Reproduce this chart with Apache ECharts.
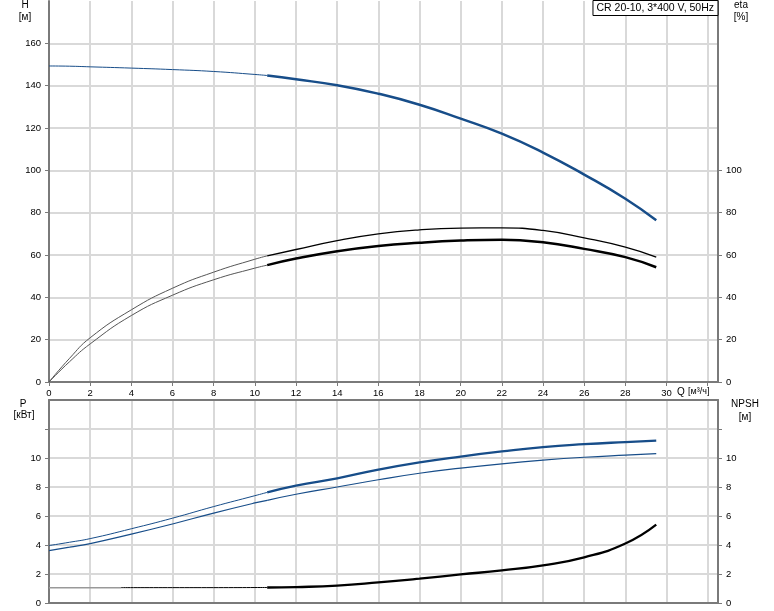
<!DOCTYPE html>
<html><head><meta charset="utf-8">
<script src="https://cdn.jsdelivr.net/npm/echarts@6/dist/echarts.min.js"></script>
<style>html,body{margin:0;padding:0;background:#fff}#c{width:774px;height:611px}</style>
</head><body><div id="c"></div>
<script>
// Flow Q [m3/h]: thin segment (low-flow) and thick segment (operating range)
const qA = [0, 1, 2, 4, 6, 8, 10, 10.6];
const qB = [10.6, 12, 14, 16, 18, 20, 22, 24, 26, 28, 29.5];
// Head H [m]
const hA = [149.3, 149.2, 148.9, 148.3, 147.6, 146.7, 145.3, 144.8];
const hB = [144.8, 143.0, 140.2, 136.2, 131.0, 124.4, 117.3, 108.4, 98.0, 86.6, 76.4];
// Efficiency eta [%] (upper and lower curves)
const eta1A = [0, 11.2, 20.9, 34.1, 44.3, 51.9, 58.0, 59.6];
const eta1B = [59.6, 62.6, 66.8, 70.0, 71.9, 72.7, 72.8, 71.6, 68.1, 63.7, 59.0];
const eta2A = [0, 9.6, 18.0, 31.4, 41.0, 48.3, 53.8, 55.2];
const eta2B = [55.2, 58.3, 61.8, 64.3, 65.8, 66.8, 67.2, 66.0, 62.9, 59.0, 54.2];
// Power P1, P2 [kW]
const p1A = [3.96, 4.19, 4.44, 5.12, 5.85, 6.65, 7.4, 7.63];
const p1B = [7.63, 8.1, 8.6, 9.2, 9.7, 10.1, 10.45, 10.75, 10.95, 11.1, 11.2];
const p2A = [3.61, 3.85, 4.1, 4.75, 5.45, 6.2, 6.9, 7.08];
const p2B = [7.08, 7.5, 8.0, 8.5, 8.95, 9.3, 9.6, 9.85, 10.05, 10.2, 10.3];
// NPSH [m]
const qN0 = [0, 3.5];
const npsh0 = [1.06, 1.06];
const qN1 = [3.5, 6, 8, 10.6];
const npsh1 = [1.06, 1.06, 1.06, 1.07];
const npshB = [1.07, 1.1, 1.2, 1.42, 1.68, 1.97, 2.25, 2.6, 3.15, 4.1, 5.4];
// Tick labels
const xLabels = [0, 2, 4, 6, 8, 10, 12, 14, 16, 18, 20, 22, 24, 26, 28, 30];
const xTicks = [0, 2, 4, 6, 8, 10, 12, 14, 16, 18, 20, 22, 24, 26, 28, 30, 32];
const hLabels = [0, 20, 40, 60, 80, 100, 120, 140, 160];
const etaLabels = [0, 20, 40, 60, 80, 100];
const pLabels = [0, 2, 4, 6, 8, 10];
const pTicks = [0, 2, 4, 6, 8, 10, 12];
const titleText = 'CR 20-10, 3*400 V, 50Hz';

const FONT = '"Liberation Sans", Arial, sans-serif';
const BLUE = '#174d89';
const AX = '#7a7a7a';
const GRID = '#d9d9d9';

function pts(q, v) { return q.map((x, i) => [x, v[i]]); }
function line(q, v, xi, yi, color, width, lastLabel) {
  const data = pts(q, v);
  if (lastLabel) {
    const last = data.pop();
    data.push({ value: last, label: Object.assign({ show: true, color: BLUE, fontSize: 10.5, fontFamily: FONT }, lastLabel) });
  }
  return {
    type: 'line', xAxisIndex: xi, yAxisIndex: yi, data: data,
    smooth: 0.5, showSymbol: false, symbol: 'none',
    lineStyle: { color: color, width: width }, itemStyle: { color: color },
    silent: true, animation: false, z: 5
  };
}
const tickLabel = { fontSize: 9.5, color: '#000', fontFamily: FONT };
function xAxis(gi, showLabels) {
  return {
    type: 'value', gridIndex: gi, min: 0, max: 32.5, interval: 2,
    axisLine: { show: true, onZero: false, lineStyle: { color: AX, width: 2 } },
    axisTick: { show: showLabels, length: 4, customValues: xTicks, lineStyle: { color: AX } },
    axisLabel: Object.assign({ show: showLabels, margin: 6, customValues: xLabels }, tickLabel),
    splitLine: { show: true, lineStyle: { color: GRID, width: 2 } }
  };
}
function yAxis(gi, pos, max, labels, ticks, split) {
  return {
    type: 'value', gridIndex: gi, position: pos, min: 0, max: max, interval: max > 20 ? 20 : 2,
    axisLine: { show: true, onZero: false, lineStyle: { color: AX, width: 2 } },
    axisTick: { show: true, length: 4, customValues: ticks, lineStyle: { color: AX } },
    axisLabel: Object.assign({ margin: 8, customValues: labels }, tickLabel),
    splitLine: { show: split, lineStyle: { color: GRID, width: 2 } }
  };
}
function txt(x, y, t, align) {
  return { type: 'text', x: x, y: y, style: { text: t, fontSize: 10, fontFamily: FONT, fill: '#000', align: align || 'center', verticalAlign: 'middle' } };
}

const chart = echarts.init(document.getElementById('c'), null, { renderer: 'canvas' });
chart.setOption({
  animation: false,
  backgroundColor: '#fff',
  title: {
    text: titleText, right: 56, top: 0, padding: [2, 4, 2, 4],
    borderColor: '#000', borderWidth: 1, backgroundColor: '#fff',
    textStyle: { fontSize: 10.5, fontWeight: 'normal', color: '#000', fontFamily: FONT, lineHeight: 12 }
  },
  grid: [
    { left: 49, right: 56, top: 1, height: 381 },
    { left: 49, right: 56, top: 400, height: 203 }
  ],
  xAxis: [
    xAxis(0, true),
    xAxis(1, false),
    { type: 'value', gridIndex: 1, position: 'top', min: 0, max: 32.5,
      axisLine: { show: true, onZero: false, lineStyle: { color: AX, width: 2 } },
      axisTick: { show: false }, axisLabel: { show: false }, splitLine: { show: false } }
  ],
  yAxis: [
    yAxis(0, 'left', 180, hLabels, hLabels, true),
    yAxis(0, 'right', 180, etaLabels, etaLabels, false),
    yAxis(1, 'left', 14, pLabels, pTicks, true),
    yAxis(1, 'right', 14, pLabels, pTicks, false)
  ],
  graphic: [
    txt(25, 5, 'H'), txt(25, 17.5, '[м]'),
    txt(741, 5, 'eta'), txt(741, 17.5, '[%]'),
    txt(23, 404, 'P'), txt(24, 415, '[кВт]'),
    txt(745, 404, 'NPSH'), txt(745, 417.5, '[м]'),
    { type: 'text', x: 677, y: 392, style: { text: '{a|Q} {b|[м³/ч]}', fontFamily: FONT, fill: '#000', verticalAlign: 'middle',
      rich: { a: { fontSize: 10, fontFamily: FONT }, b: { fontSize: 9, fontFamily: FONT } } } }
  ],
  series: [
    line(qA, hA, 0, 0, BLUE, 1),
    line(qB, hB, 0, 0, BLUE, 2.5),
    line(qA, eta1A, 0, 1, '#555', 1),
    line(qB, eta1B, 0, 1, '#000', 1.3),
    line(qA, eta2A, 0, 1, '#555', 1),
    line(qB, eta2B, 0, 1, '#000', 2.5),
    line(qA, p1A, 1, 2, BLUE, 1),
    line(qB, p1B, 1, 2, BLUE, 2.3, { position: 'top', distance: 2, formatter: 'P1' }),
    line(qA, p2A, 1, 2, BLUE, 1.2),
    line(qB, p2B, 1, 2, BLUE, 1.2, { position: 'bottom', distance: 2, formatter: 'P2' }),
    line(qN0, npsh0, 1, 3, '#999999', 1.5),
    line(qN1, npsh1, 1, 3, '#000', 1),
    line(qB, npshB, 1, 3, '#000', 2.3)
  ]
});
</script>
</body></html>
